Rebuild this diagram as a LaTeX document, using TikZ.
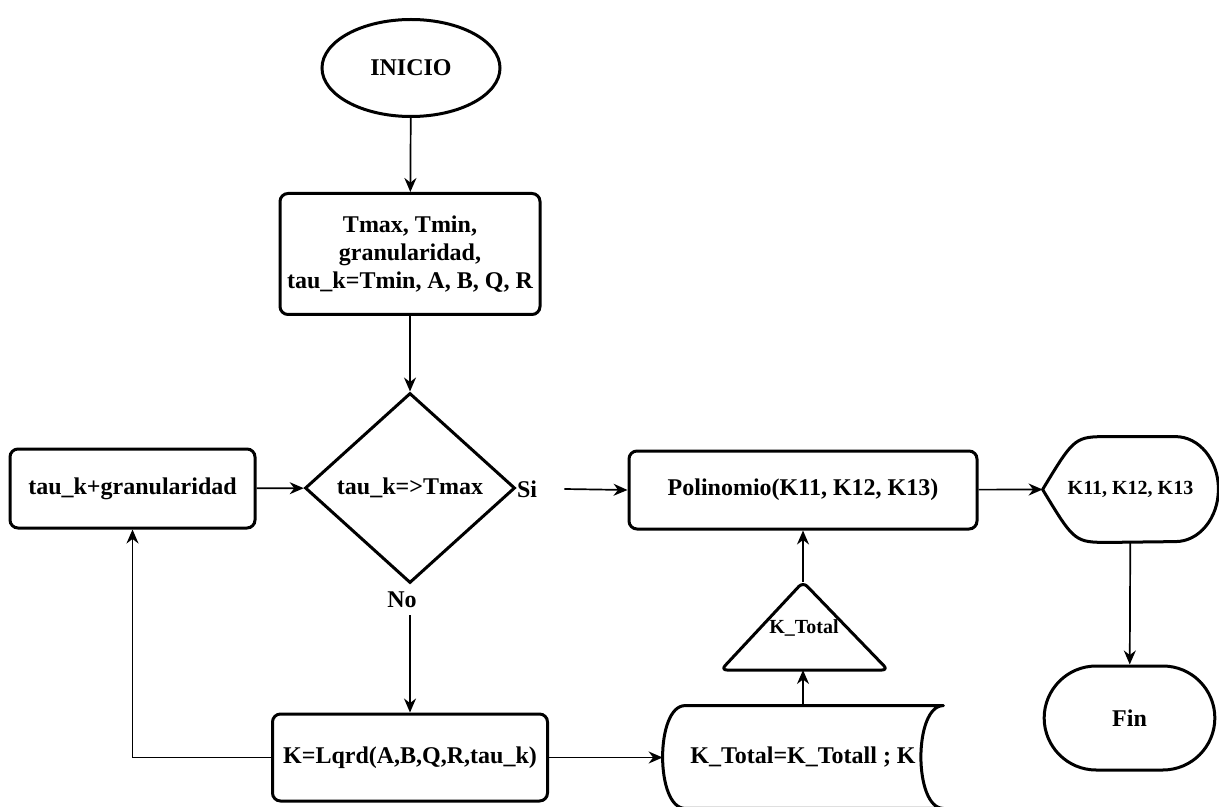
\documentclass[tikz,border=0pt]{standalone}
\usepackage{fontspec}
\setmainfont{Liberation Serif}
\usepackage{tikz}
\usetikzlibrary{arrows.meta,positioning,calc,shapes.geometric,shapes.misc}

\begin{document}
\begin{tikzpicture}[x=1pt,y=1pt,font=\bfseries\fontsize{12}{12.5}\selectfont]
      \tikzstyle{caja}=[rectangle,draw,line width=1.5pt,rounded corners=4pt,align=center,inner sep=2pt]
      \tikzstyle{borde}=[line width=1.5pt,line join=round]
      \tikzstyle{flecha}=[line width=0.85pt,-{Stealth[length=7pt,width=6pt]}]
      \tikzstyle{chico}=[font=\bfseries\fontsize{10}{12}\selectfont]
      \useasboundingbox (0,0) rectangle (609.5,-403.5);
      \node[ellipse,draw,line width=1.5pt,minimum width=89pt,minimum height=48.5pt] (inicio) at (205.5,-34) {INICIO};
      \node[caja,minimum width=130pt,minimum height=60.5pt,font=\bfseries\fontsize{12}{14}\selectfont] (datos) at (205,-127) {Tmax, Tmin,\\granularidad,\\tau\_k=Tmin, A, B, Q, R};
      \node[diamond,draw,line width=1.5pt,aspect=1.1,inner sep=0pt,minimum width=105pt,minimum height=95pt] (cond) at (205,-244) {tau\_k=>Tmax};
      \node[inner sep=0pt] (si) at (263.5,-244.5) {Si};
      \node[inner sep=0pt] (no) at (201,-300) {No};
      \node[caja,minimum width=122.5pt,minimum height=39.5pt] (tauk) at (66.25,-244.25) {tau\_k+granularidad};
      \node[caja,minimum width=137.5pt,minimum height=43.5pt] (klqr) at (205,-378.75) {K=Lqrd(A,B,Q,R,tau\_k)};
      \node[caja,minimum width=174pt,minimum height=39pt] (poli) at (401.5,-245) {Polinomio(K11, K12, K13)};
      \node[chico,inner sep=0pt,minimum width=87.5pt,minimum height=52.5pt] (sal) at (565.25,-244.75) {K11, K12, K13};
      \node[rounded rectangle,draw,line width=1.5pt,minimum width=92pt,minimum height=52pt] (fin) at (564.75,-359) {Fin};
      \node[inner sep=0pt,minimum width=140pt,minimum height=51pt] (alm) at (401.5,-378.5) {K\_Total=K\_Totall ; K};
      \node[chico,inner sep=0pt] (ktot) at (402,-314) {K\_Total};
      \coordinate (triapex) at (401.5,-291);
      \coordinate (tribase) at (401.5,-335);
      \draw[borde,rounded corners=3pt] (triapex) -- (444,-335) -- (360.5,-335) -- cycle;
      \draw[borde] (sal.west) .. controls ($(sal.north west)+(16pt,0)$) .. ($(sal.north west)+(33.5pt,0)$)
        -- ($(sal.north east)+(-21.5pt,0)$) arc[start angle=90,end angle=-90,x radius=21.5pt,y radius=26.25pt]
        -- ($(sal.south west)+(33.5pt,0)$) .. controls ($(sal.south west)+(16pt,0)$) .. (sal.west) -- cycle;
      \draw[borde] ($(alm.north west)+(11.25pt,0)$) -- (alm.north east)
        .. controls +(-15pt,0) and +(-15pt,0) .. (alm.south east)
        -- ($(alm.south west)+(11.25pt,0)$)
        .. controls +(-15pt,0) and +(-15pt,0) .. ($(alm.north west)+(11.25pt,0)$);
      \draw[flecha] (inicio) -- (datos);
      \draw[flecha] (datos) -- (cond);
      \draw[flecha] (tauk) -- (cond);
      \draw[flecha] (si.east) ++(13.5pt,0) -- (poli.west);
      \draw[flecha] (no.south -| klqr.north) ++(0,-3.5pt) -- (klqr.north);
      \draw[flecha] (klqr.west) -| (tauk.south);
      \draw[flecha] (klqr.east) -- (klqr.east -| alm.west);
      \draw[flecha] (alm.north) -- (tribase);
      \draw[flecha] (triapex) -- (poli.south);
      \draw[flecha] (poli) -- (sal.west);
      \draw[flecha] (sal) -- (fin);
    \end{tikzpicture}
\end{document}
